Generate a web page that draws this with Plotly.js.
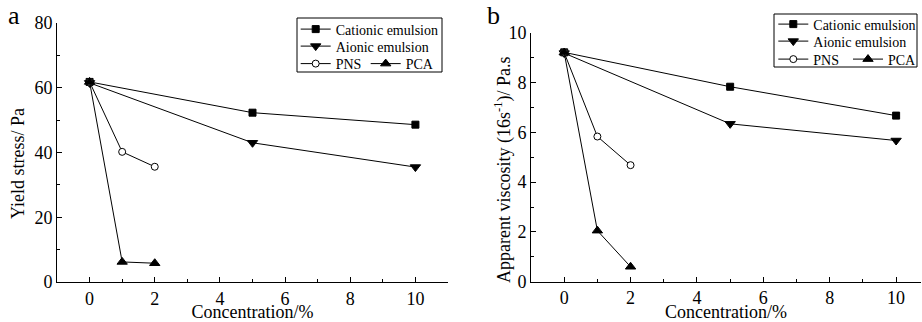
<!DOCTYPE html>
<html>
<head>
<meta charset="utf-8">
<script src="https://cdn.plot.ly/plotly-3.0.1.min.js"></script>
<style>html,body{margin:0;padding:0;background:#fff}#chart{width:922px;height:322px}</style>
</head>
<body>
<div id="chart"></div>
<script>
// Concentration (%)
const xEmulsion = [0, 5, 10];
const xAdmix = [0, 1, 2];
// Panel a: yield stress (Pa)
const yieldCationic = [61.8, 52.3, 48.6];
const yieldAionic = [61.5, 43.0, 35.5];
const yieldPNS = [61.8, 40.2, 35.6];
const yieldPCA = [61.8, 6.2, 5.8];
// Panel b: apparent viscosity (Pa.s)
const viscCationic = [9.21, 7.83, 6.67];
const viscAionic = [9.18, 6.34, 5.67];
const viscPNS = [9.2, 5.83, 4.68];
const viscPCA = [9.2, 2.05, 0.6];

const seriesNames = ['Cationic emulsion', 'Aionic emulsion', 'PNS', 'PCA'];

const FONT = 'Liberation Serif, Times New Roman, serif';
const line = {color: '#000', width: 1};
function tr(x, y, name, symbol, size, xa, ya, leg) {
  return {x: x, y: y, name: name, type: 'scatter', mode: 'lines+markers',
    xaxis: xa, yaxis: ya, legend: leg, showlegend: true,
    line: line,
    marker: {symbol: symbol, size: size, color: name === 'PNS' ? '#fff' : '#000',
      line: {color: '#000', width: 1}}};
}
const data = [
  tr(xEmulsion, yieldCationic, seriesNames[0], 'square', 7, 'x', 'y', 'legend'),
  tr(xEmulsion, yieldAionic, seriesNames[1], 'triangle-down', 9, 'x', 'y', 'legend2'),
  tr(xAdmix, yieldPNS, seriesNames[2], 'circle', 7, 'x', 'y', 'legend3'),
  tr(xAdmix, yieldPCA, seriesNames[3], 'triangle-up', 9, 'x', 'y', 'legend4'),
  tr(xEmulsion, viscCationic, seriesNames[0], 'square', 7, 'x2', 'y2', 'legend5'),
  tr(xEmulsion, viscAionic, seriesNames[1], 'triangle-down', 9, 'x2', 'y2', 'legend6'),
  tr(xAdmix, viscPNS, seriesNames[2], 'circle', 7, 'x2', 'y2', 'legend7'),
  tr(xAdmix, viscPCA, seriesNames[3], 'triangle-up', 9, 'x2', 'y2', 'legend8')
];

function xax(domain, range, anchor) {
  return {domain: domain, range: range, anchor: anchor, showline: true, linecolor: '#000', linewidth: 1,
    ticks: 'inside', ticklen: 5, tickcolor: '#000', tick0: 0, dtick: 2, showgrid: false, zeroline: false,
    tickfont: {family: FONT, size: 18, color: '#000'},
    minor: {dtick: 1, tick0: 0, ticks: 'inside', ticklen: 3, tickcolor: '#000', showgrid: false},
    title: {text: 'Concentration/%', font: {family: FONT, size: 18, color: '#000'}, standoff: 0}};
}
function yax(domain, range, dtick, anchor) {
  return {domain: domain, range: range, anchor: anchor, showline: true, linecolor: '#000', linewidth: 1,
    ticks: 'inside', ticklen: 5, tickcolor: '#000', tick0: 0, dtick: dtick, showgrid: false, zeroline: false,
    tickfont: {family: FONT, size: 18, color: '#000'},
    minor: {dtick: dtick / 2, ticks: 'inside', ticklen: 3, tickcolor: '#000', showgrid: false}};
}
const legFont = {family: FONT, size: 14, color: '#000'};
const W = 922, H = 322;
const px = v => v / W, py = v => 1 - v / H;
function leg(x, y) {
  return {x: px(x), y: py(y), xanchor: 'left', yanchor: 'top', orientation: 'h', font: legFont,
    bgcolor: 'rgba(0,0,0,0)', borderwidth: 0, itemwidth: 30, tracegroupgap: 0, itemclick: false};
}

const layout = {
  width: W, height: H, margin: {l: 0, r: 0, t: 0, b: 0},
  paper_bgcolor: '#fff', plot_bgcolor: '#fff',
  font: {family: FONT, color: '#000'},
  xaxis: xax([px(57), px(448)], [-1, 11], 'y'),
  yaxis: yax([1 - 282 / H, 1 - 23 / H], [0, 80], 20, 'x'),
  xaxis2: xax([px(531), px(921)], [-1, 10.75], 'y2'),
  yaxis2: yax([1 - 281.7 / H, 1 - 32.7 / H], [0, 10], 2, 'x2'),
  legend: leg(295.7, 13.5),
  legend2: leg(295.7, 30.5),
  legend3: leg(295.7, 48),
  legend4: leg(365.7, 48),
  legend5: leg(773.3, 8.5),
  legend6: leg(773.3, 25.5),
  legend7: leg(773.3, 43.5),
  legend8: leg(848.3, 43.5),
  shapes: [
    {type: 'rect', xref: 'paper', yref: 'paper', x0: px(297), x1: px(442), y0: py(72), y1: py(18), line: {color: '#000', width: 1}},
    {type: 'rect', xref: 'paper', yref: 'paper', x0: px(774), x1: px(917), y0: py(67), y1: py(14), line: {color: '#000', width: 1}}
  ],
  annotations: [
    {text: 'a', xref: 'paper', yref: 'paper', x: px(14), y: py(16), xanchor: 'center', yanchor: 'middle', showarrow: false, font: {family: FONT, size: 26, color: '#000'}},
    {text: 'b', xref: 'paper', yref: 'paper', x: px(493), y: py(16), xanchor: 'center', yanchor: 'middle', showarrow: false, font: {family: FONT, size: 26, color: '#000'}},
    {text: 'Yield stress/ Pa', xref: 'paper', yref: 'paper', x: px(18), y: py(164), xanchor: 'center', yanchor: 'middle', textangle: -90, showarrow: false, font: {family: FONT, size: 18, color: '#000'}},
    {text: 'Apparent viscosity (16s<sup>-1</sup>)/ Pa.s', xref: 'paper', yref: 'paper', x: px(503), y: py(170), xanchor: 'center', yanchor: 'middle', textangle: -90, showarrow: false, font: {family: FONT, size: 18, color: '#000'}}
  ]
};
Plotly.newPlot('chart', data, layout, {staticPlot: true});
</script>
</body>
</html>
